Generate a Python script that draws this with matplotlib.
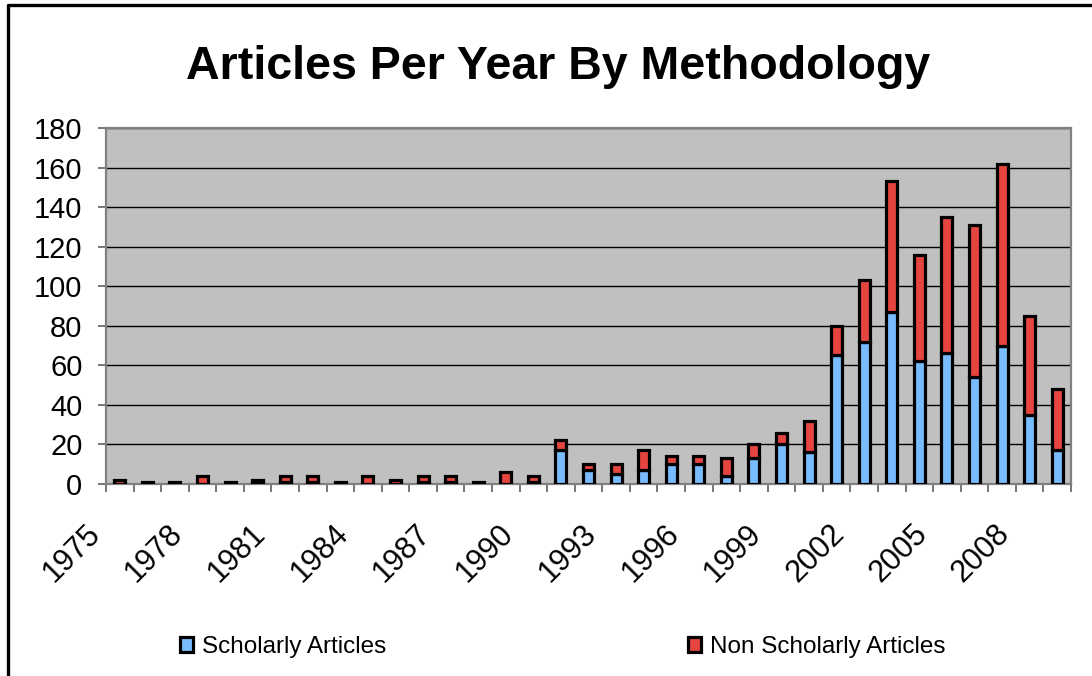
import matplotlib
matplotlib.use('Agg')
import matplotlib.pyplot as plt
import numpy as np
from matplotlib.lines import Line2D

plt.rc('font', family='Liberation Sans')

years = list(range(1975, 2010))
scholarly = [0, 0, 0, 0, 0, 1, 1, 1, 0, 0, 0, 1, 1, 0, 0, 1, 17, 7, 5, 7,
             10, 10, 4, 13, 20, 16, 65, 72, 87, 62, 66, 54, 70, 35, 17]
non_scholarly = [2, 1, 1, 4, 1, 1, 3, 3, 1, 4, 2, 3, 3, 1, 6, 3, 5, 3, 5, 10,
                 4, 4, 9, 7, 6, 16, 15, 31, 66, 54, 69, 77, 92, 50, 31]
y_ticks = [0, 20, 40, 60, 80, 100, 120, 140, 160, 180]

W, H = 1092, 676
fig = plt.figure(figsize=(W / 100, H / 100), dpi=100)
ax = fig.add_axes([106 / W, 1 - 484 / H, (1071 - 106) / W, (484 - 128) / H])

blue = '#78bcff'
red = '#e6443f'
x = np.arange(len(years))
b1 = ax.bar(x, scholarly, width=0.40, color=blue, edgecolor='black', linewidth=2.3,
            label='Scholarly Articles', zorder=3)
b2 = ax.bar(x, non_scholarly, width=0.40, bottom=scholarly, color=red, edgecolor='black',
            linewidth=2.3, label='Non Scholarly Articles', zorder=3)

ax.set_facecolor('#c0c0c0')
ax.set_xlim(-0.5, len(years) - 0.5)
ax.set_ylim(0, 180)
ax.set_yticks(y_ticks)
ax.yaxis.grid(True, color='black', linewidth=1.0)
ax.set_axisbelow(True)
for s in ax.spines.values():
    s.set_color('#808080')
    s.set_linewidth(1.6)

# tick marks sit on category boundaries, every third year gets a label
ax.set_xticks(np.arange(len(years) + 1) - 0.5)
xlabels = [str(years[i]) if (i < len(years) and i % 3 == 0) else '' for i in range(len(years) + 1)]
ax.set_xticklabels(xlabels, rotation=45, ha='right')
ax.tick_params(axis='x', direction='out', length=6, width=1.2, color='#606060',
               labelsize=22, pad=19)
ax.tick_params(axis='y', direction='out', length=6, width=1.2, color='#606060',
               labelsize=21, pad=11)

fig.text(558 / W, 1 - 79 / H, 'Articles Per Year By Methodology', ha='center',
         va='baseline', fontsize=33.5, fontweight='bold')

# legends along the bottom
for handle, xpos in [(b1, 180), (b2, 688)]:
    fig.legend([handle], [handle.get_label()], loc='center left',
               bbox_to_anchor=(xpos / W, 1 - 647 / H), frameon=False, fontsize=17.5,
               borderpad=0, borderaxespad=0, handlelength=0.55, handleheight=0.55,
               handletextpad=0.35)

# frame line along the left and top edges
fig.add_artist(Line2D([8 / W, 8 / W, 1], [0, 1 - 5 / H, 1 - 5 / H], color='black',
                      linewidth=2.4, transform=fig.transFigure))

fig.savefig('out.png', dpi=100)
